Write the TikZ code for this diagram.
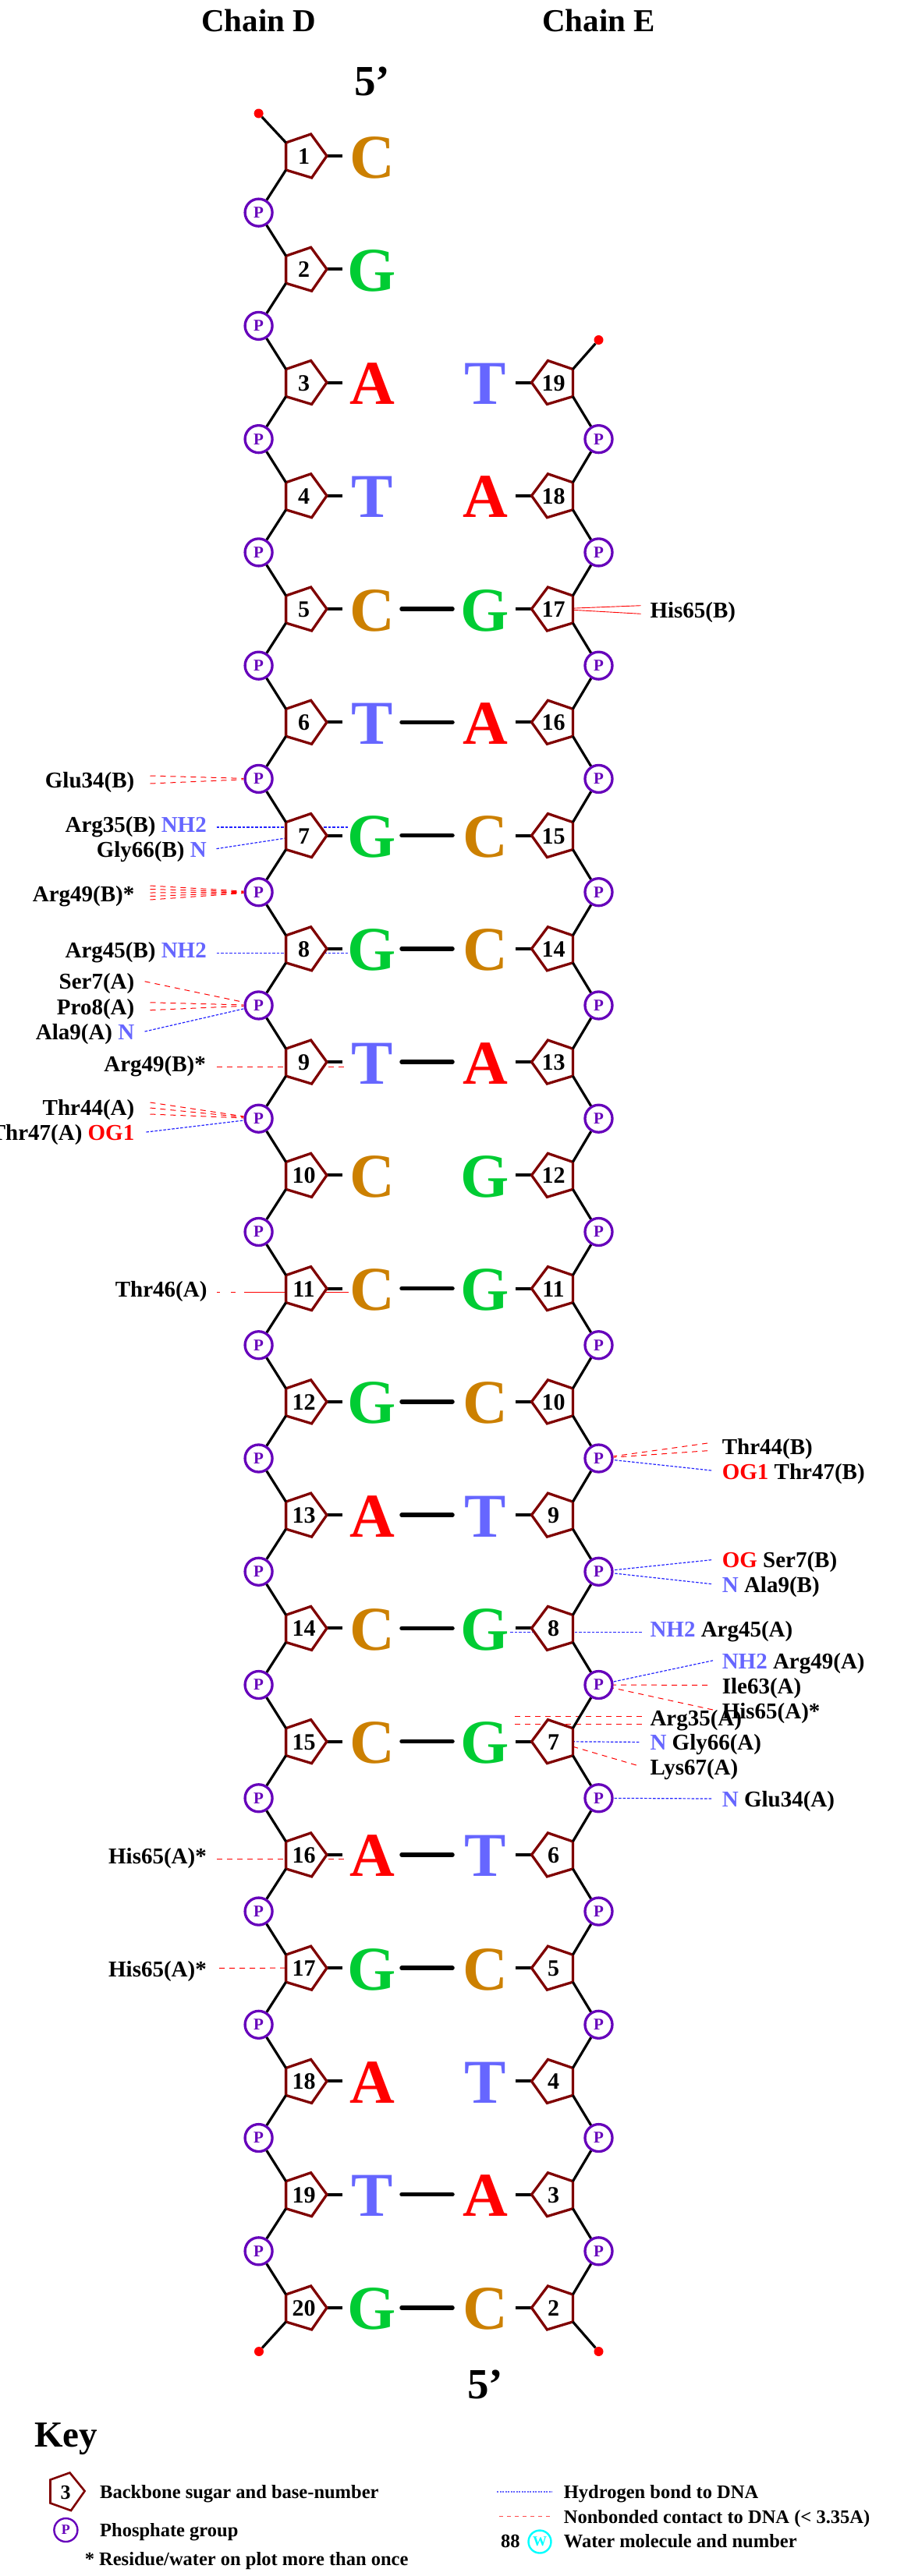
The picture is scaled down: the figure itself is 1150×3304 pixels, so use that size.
\documentclass[tikz,border=0pt]{standalone}
\usepackage{fontspec}
\setmainfont{Liberation Serif}
\definecolor{colA}{HTML}{FF0000}
\definecolor{colC}{HTML}{CC8000}
\definecolor{colG}{HTML}{00CC33}
\definecolor{colT}{HTML}{6666FF}
\definecolor{sugarcol}{HTML}{7F0000}
\definecolor{phoscol}{HTML}{6600BB}
\definecolor{watercol}{HTML}{00FFFF}
\definecolor{hbondcol}{HTML}{2222FF}
\definecolor{nonbcol}{HTML}{FF0000}
\tikzset{
	residue/.style={font=\fontsize{29}{29}\selectfont\bfseries, inner sep=0pt},
	title/.style={font=\fontsize{41}{41}\selectfont\bfseries, inner sep=0pt},
	fiveprime/.style={font=\fontsize{55}{55}\selectfont\bfseries, inner sep=0pt, anchor=base},
	keytext/.style={font=\fontsize{24.5}{24.5}\selectfont\bfseries, inner sep=0pt},
	basetext/.style={font=\fontsize{80}{80}\selectfont\bfseries, inner sep=0pt, anchor=base},
	numtext/.style={font=\fontsize{30}{30}\selectfont\bfseries, inner sep=0pt, anchor=base},
	sugar/.style={draw=sugarcol, fill=white, line width=3.3pt, line join=miter},
	phos/.style={circle, draw=phoscol, fill=white, line width=3.3pt, minimum size=35pt, inner sep=0pt, text=phoscol, font=\fontsize{21}{21}\selectfont\bfseries},
	water/.style={circle, draw=watercol, fill=white, line width=2.4pt, minimum size=29pt, inner sep=0pt, text=watercol, font=\fontsize{18}{18}\selectfont\bfseries},
	reddot/.style={circle, fill=nonbcol, minimum size=12pt, inner sep=0pt},
	bond/.style={line width=3.2pt},
	stub/.style={line width=4pt},
	pair/.style={line width=5.5pt, line cap=round},
	hbond/.style={hbondcol, line width=1.2pt, dash pattern=on 3.5pt off 2pt},
	nonb/.style={nonbcol, line width=1pt, dash pattern=on 7pt off 6pt},
}
\begin{document}
\begin{tikzpicture}[x=1pt, y=-1pt]
	\useasboundingbox (0,0) rectangle (1150,3304);
	\foreach \r in {1,...,20} {
		\pgfmathsetmacro\yy{200+(\r-1)*145.26}
		\coordinate (sL\r) at (389,\yy);
		\coordinate (upL\r) at (366.6,\yy-17);
		\coordinate (dnL\r) at (366.6,\yy+18);
		\coordinate (tipL\r) at (419,\yy);
		\coordinate (stubL\r) at (439,\yy);
		\coordinate (pairL\r) at (515,\yy);
		\coordinate (sR\r) at (712,\yy);
		\coordinate (upR\r) at (734.4,\yy-17);
		\coordinate (dnR\r) at (734.4,\yy+18);
		\coordinate (tipR\r) at (681.5,\yy);
		\coordinate (stubR\r) at (661,\yy);
		\coordinate (pairR\r) at (580,\yy);
	}
	\foreach \r in {1,...,19} {
		\pgfmathsetmacro\yy{200+(\r-0.5)*145.26}
		\node[phos] (pL\r) at (331.6,\yy) {P};
	}
	\foreach \r in {3,...,19} {
		\pgfmathsetmacro\yy{200+(\r-0.5)*145.26}
		\node[phos] (pR\r) at (767.5,\yy) {P};
	}
	\foreach \cn/\cx/\cy in {
		glua/192.5/995, glub/192.5/1005,
		arga/277.5/1061, argb/446/1061, glya/277.5/1088.6,
		rga/192.5/1136, rgb/192.5/1140.5, rgc/192.5/1145, rgd/192.5/1149.5, rge/192.5/1154,
		ahia/277.5/1222.6, ahib/446/1222.6,
		sera/185.6/1258.8, proa/192.5/1285.8, prob/192.5/1295.6, alaa/185.6/1323,
		nina/277.5/1368, ninb/446/1368,
		tha/192.5/1414, thb/192.5/1421, thc/192.5/1429, thd/187.5/1452,
		fora/278/1657, forb/446.7/1657,
		sixa/278/2384, sixb/446/2384, sev/281/2524.3,
		hisa/821.7/776.7, hisb/821.7/787.3,
		tra/907/1851, trb/907/1860.7, trc/912/1886,
		ogs/912/2000.7, ala/912/2031.6,
		rfa/822.8/2093.3, rfb/654.4/2093.3,
		rna/914/2129.8, ile/907/2161.4, hsa/914/2193,
		tfa/822.8/2201, tfb/655/2201, tfc/822.8/2211.6, tfd/655/2211.6,
		gga/819.3/2234.4, lys/815.8/2264, gla/912/2307} {
		\coordinate (\cn) at (\cx,\cy);
	}
	\foreach \ca/\cb in {glua/pL6, glub/pL6, rga/pL7, rgb/pL7, rgc/pL7, rgd/pL7, rge/pL7,
		sera/pL8, proa/pL8, prob/pL8, nina/ninb, tha/pL9, thb/pL9, thc/pL9,
		sixa/sixb, sev/sL17, tra/pR12, trb/pR12, ile/pR14, hsa/pR14,
		tfa/tfb, tfc/tfd, lys/sR15} {
		\draw[nonb] (\ca) -- (\cb);
	}
	\foreach \ca/\cb in {arga/argb, glya/sL7, ahia/ahib, alaa/pL8, thd/pL9,
		trc/pR12, ogs/pR13, ala/pR13, rfa/rfb, rna/pR14, gga/sR15, gla/pR15} {
		\draw[hbond] (\ca) -- (\cb);
	}
	\draw[nonbcol, line width=1pt, dash pattern=on 4pt off 14pt on 6pt off 11pt on 200pt off 0pt] (fora) -- (forb);
	\draw[nonbcol, line width=0.9pt] (hisa) -- (sR5);
	\draw[nonbcol, line width=0.9pt] (hisb) -- (sR5);
	\foreach \r/\b in {1/C,2/G,3/A,4/T,5/C,6/T,7/G,8/G,9/T,10/C,11/C,12/G,13/A,14/C,15/C,16/A,17/G,18/A,19/T,20/G} {
		\pgfmathsetmacro\yy{200+(\r-1)*145.26}
		\draw[stub] (tipL\r) -- (stubL\r);
		\draw[sugar] (366.6,\yy-17) -- (398.6,\yy-28) -- (tipL\r) -- (399.6,\yy+28) -- (366.6,\yy+18) -- cycle;
		\node[numtext] (nL\r) at (389.5,\yy+10.5) {\r};
		\node[basetext, text=col\b] (bL\r) at (477,\yy+28) {\b};
	}
	\foreach \r/\b in {3/T,4/A,5/G,6/A,7/C,8/C,9/A,10/G,11/G,12/C,13/T,14/G,15/G,16/T,17/C,18/T,19/A,20/C} {
		\pgfmathsetmacro\yy{200+(\r-1)*145.26}
		\pgfmathtruncatemacro\nn{22-\r}
		\draw[stub] (tipR\r) -- (stubR\r);
		\draw[sugar] (734.4,\yy-17) -- (702.4,\yy-28) -- (tipR\r) -- (701.4,\yy+28) -- (734.4,\yy+18) -- cycle;
		\node[numtext] (nR\r) at (709.5,\yy+10.5) {\nn};
		\node[basetext, text=col\b] (bR\r) at (622,\yy+28) {\b};
	}
	\foreach \r in {5,6,7,8,9,11,12,13,14,15,16,17,19,20} {
		\draw[pair] (pairL\r) -- (pairR\r);
	}
	\foreach \r [evaluate=\r as \s using int(\r+1)] in {1,...,19} {
		\draw[bond] (dnL\r) -- (pL\r);
		\draw[bond] (pL\r) -- (upL\s);
	}
	\foreach \r [evaluate=\r as \s using int(\r+1)] in {3,...,19} {
		\draw[bond] (dnR\r) -- (pR\r);
		\draw[bond] (pR\r) -- (upR\s);
	}
	\node[reddot] (dotL1) at (331.6,145.5) {};
	\node[reddot] (dotL20) at (332,3016) {};
	\node[reddot] (dotR3) at (767.5,436) {};
	\node[reddot] (dotR20) at (767.5,3016) {};
	\draw[bond] (dotL1) -- (upL1);
	\draw[bond] (dotL20) -- (dnL20);
	\draw[bond] (dotR3) -- (upR3);
	\draw[bond] (dotR20) -- (dnR20);
	\node[title, anchor=base] (chainD) at (331.6,40) {Chain D};
	\node[title, anchor=base] (chainE) at (767.5,40) {Chain E};
	\node[fiveprime] (topfive) at (477,122.5) {5’};
	\node[fiveprime] (botfive) at (622,3076.7) {5’};
	\node[residue, anchor=base east] (glu34B) at (172.5,1010) {Glu34(B)};
	\node[residue, anchor=base east] (arg35B) at (265,1067) {Arg35(B) \textcolor{colT}{NH2}};
	\node[residue, anchor=base east] (gly66B) at (265,1099) {Gly66(B) \textcolor{colT}{N}};
	\node[residue, anchor=base east] (arg49B) at (172.5,1156) {Arg49(B)*};
	\node[residue, anchor=base east] (arg45B) at (265,1228) {Arg45(B) \textcolor{colT}{NH2}};
	\node[residue, anchor=base east] (ser7A) at (172.5,1268.6) {Ser7(A)};
	\node[residue, anchor=base east] (pro8A) at (172.5,1301) {Pro8(A)};
	\node[residue, anchor=base east] (ala9A) at (172.5,1333) {Ala9(A) \textcolor{colT}{N}};
	\node[residue, anchor=base east] (arg49Bb) at (264,1374) {Arg49(B)*};
	\node[residue, anchor=base east] (thr44A) at (172.5,1430) {Thr44(A)};
	\node[residue, anchor=base east] (thr47A) at (172.5,1462.5) {Thr47(A) \textcolor{colA}{OG1}};
	\node[residue, anchor=base east] (thr46A) at (265.7,1663) {Thr46(A)};
	\node[residue, anchor=base east] (his65Aa) at (265,2390) {His65(A)*};
	\node[residue, anchor=base east] (his65Ab) at (265,2535.7) {His65(A)*};
	\node[residue, anchor=base west] (his65B) at (833.3,792) {His65(B)};
	\node[residue, anchor=base west] (thr44B) at (925.6,1865) {Thr44(B)};
	\node[residue, anchor=base west] (thr47B) at (925.6,1897) {\textcolor{colA}{OG1} Thr47(B)};
	\node[residue, anchor=base west] (ser7B) at (925.6,2010.7) {\textcolor{colA}{OG} Ser7(B)};
	\node[residue, anchor=base west] (ala9B) at (925.6,2042) {\textcolor{colT}{N} Ala9(B)};
	\node[residue, anchor=base west] (arg45A) at (833.3,2099.5) {\textcolor{colT}{NH2} Arg45(A)};
	\node[residue, anchor=base west] (arg49A) at (925.6,2140.5) {\textcolor{colT}{NH2} Arg49(A)};
	\node[residue, anchor=base west] (ile63A) at (925.6,2172.5) {Ile63(A)};
	\node[residue, anchor=base west] (his65Ac) at (925.6,2204) {His65(A)*};
	\node[residue, anchor=base west] (arg35A) at (833.3,2213.5) {Arg35(A)};
	\node[residue, anchor=base west] (gly66A) at (833.3,2244.4) {\textcolor{colT}{N} Gly66(A)};
	\node[residue, anchor=base west] (lys67A) at (833.3,2276.7) {Lys67(A)};
	\node[residue, anchor=base west] (glu34A) at (925.6,2317) {\textcolor{colT}{N} Glu34(A)};
	\node[font=\fontsize{47}{47}\selectfont\bfseries, inner sep=0pt, anchor=base west] (keytitle) at (44,3138) {Key};
	\coordinate (ksa) at (64.5,3180.5);
	\coordinate (ksb) at (64.5,3210.5);
	\coordinate (kha) at (637,3195.7);
	\coordinate (khb) at (708,3195.7);
	\coordinate (kna) at (640,3227.7);
	\coordinate (knb) at (708,3227.7);
	\draw[sugar, line width=2.6pt] (ksa) -- (89.5,3171.5) -- (108.6,3195) -- (91,3220) -- (ksb) -- cycle;
	\node[inner sep=0pt, anchor=base, font=\fontsize{26}{26}\selectfont\bfseries] (ksugar) at (84,3205) {3};
	\node[keytext, anchor=base west] (ksugartext) at (128,3204) {Backbone sugar and base-number};
	\node[phos, line width=2.4pt, minimum size=30pt, font=\fontsize{18}{18}\selectfont\bfseries] (kphos) at (84.4,3245) {P};
	\node[keytext, anchor=base west] (kphostext) at (128,3253) {Phosphate group};
	\node[keytext, anchor=base west] (kstar) at (108.6,3290) {* Residue/water on plot more than once};
	\draw[colT, line width=1.8pt, dash pattern=on 2pt off 1.5pt] (kha) -- (khb);
	\draw[nonbcol!70!white, line width=1.5pt, dash pattern=on 5pt off 5pt] (kna) -- (knb);
	\node[keytext, anchor=base west] (khtext) at (722.7,3204) {Hydrogen bond to DNA};
	\node[keytext, anchor=base west] (kntext) at (722.7,3236.7) {Nonbonded contact to DNA (< 3.35A)};
	\node[keytext, anchor=base west] (keightyeight) at (642,3267.7) {88};
	\node[water] (kwater) at (692,3260) {W};
	\node[keytext, anchor=base west] (kwatertext) at (722.7,3267.7) {Water molecule and number};
\end{tikzpicture}
\end{document}
